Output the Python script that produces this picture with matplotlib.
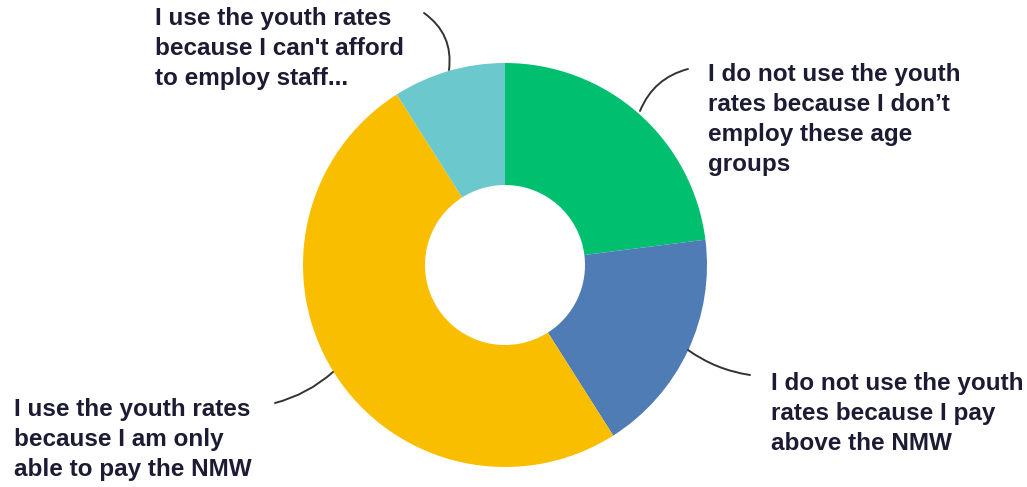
import matplotlib.pyplot as plt

# share of employers by reason (%), clockwise from 12 o'clock
labels = [
    "I do not use the youth\nrates because I don\u2019t\nemploy these age\ngroups",
    "I do not use the youth\nrates because I pay\nabove the NMW",
    "I use the youth rates\nbecause I am only\nable to pay the NMW",
    "I use the youth rates\nbecause I can't afford\nto employ staff...",
]
shares = [23, 18, 50, 9]
colours = ["#00BF6F", "#507CB6", "#F9BE00", "#6BC8CD"]

W, H = 1027, 487
fig = plt.figure(figsize=(W / 100, H / 100), dpi=100)
ax = fig.add_axes([0, 0, 1, 1])


def py(y):
    # pixel rows are counted from the top
    return H - y


cx, cy, r = 505, py(265), 202
ax.pie(shares, colors=colours, startangle=90, counterclock=False,
       center=(cx, cy), radius=r, wedgeprops=dict(width=r - 80, linewidth=0),
       frame=True)
ax.set_xlim(0, W)
ax.set_ylim(0, H)
ax.set_aspect("equal")
ax.axis("off")

txt = dict(fontsize=17.5, fontweight="bold", color="#1C1B33",
           family=["Liberation Sans Narrow", "Liberation Sans"],
           ha="left", va="top", linespacing=1.38)
label_pos = [(708, 63), (771, 372), (14, 398), (155, 7)]
for lab, (x, y) in zip(labels, label_pos):
    ax.text(x, py(y), lab, **txt)

# curved leader lines: (text end, wedge end, bend)
leaders = [
    ((688, 69), (640, 111), 0.25),
    ((750, 375), (688, 350), -0.12),
    ((275, 403), (333, 372), 0.12),
    ((424, 13), (449, 70), -0.3),
]
for (x0, y0), (x1, y1), rad in leaders:
    ax.annotate("", xy=(x1, py(y1)), xytext=(x0, py(y0)),
                arrowprops=dict(arrowstyle="-", color="#333333", lw=1.4,
                                connectionstyle=f"arc3,rad={rad}",
                                shrinkA=0, shrinkB=0))

fig.savefig("out.png", dpi=100)
